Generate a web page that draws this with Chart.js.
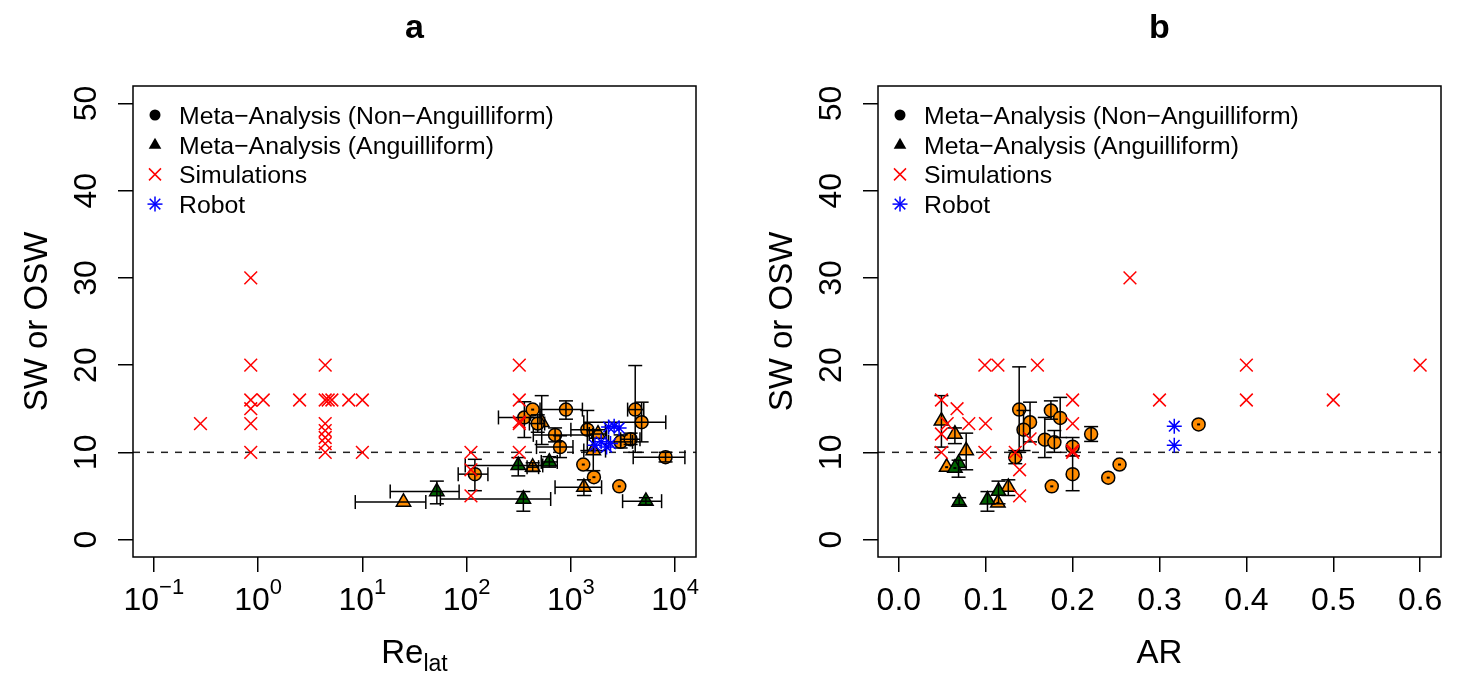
<!DOCTYPE html>
<html>
<head>
<meta charset="utf-8">
<script src="https://cdn.jsdelivr.net/npm/chart.js@4.4.1/dist/chart.umd.min.js"></script>
<style>
  html, body { margin: 0; padding: 0; background: #fff; overflow: hidden; }
  canvas { position: absolute; top: 0; }
</style>
</head>
<body>
<canvas id="graficoA" width="730" height="673" style="left:0"></canvas>
<canvas id="graficoB" width="715" height="673" style="left:745px"></canvas>
<script>
// ---------------- eixos ----------------
const reTicks = [0.1, 1, 10, 100, 1000, 10000]
const arTicks = [0, 0.1, 0.2, 0.3, 0.4, 0.5, 0.6]
const swTicks = [0, 10, 20, 30, 40, 50]

// ---------------- painel a (Re_lat) ----------------
const simRe   = [0.28, 0.85, 0.85, 0.85, 0.85, 0.85, 0.85, 1.12, 2.5, 4.4, 4.4, 4.7, 5.1, 4.4, 4.4, 4.4, 4.4, 4.4, 7.4, 10, 10, 110, 110, 110, 320, 320, 320, 320, 320]
const simSwA  = [13.3, 30, 20, 16, 15, 13.3, 10, 16, 16, 20, 16, 16, 16, 13.3, 12.5, 11.7, 11, 10, 16, 16, 10, 10, 8, 5, 20, 16, 13.3, 13.5, 10]

const roboRe  = [1700, 1950, 2200, 2400, 2300, 2600, 2900]
const roboSwA = [10.8, 11.2, 10.6, 11.0, 12.9, 13.0, 12.8]

// circulos laranja (nao anguilliforme)
const circRe    = [120, 358, 430, 481, 897, 705, 787, 1437, 1315, 1663, 2912, 3000, 3740, 4140, 4770, 8090]
const circSwA   = [7.5, 14.0, 14.9, 13.3, 14.9, 12.0, 10.6, 12.6, 8.6, 7.15, 6.1, 11.2, 11.5, 14.9, 13.45, 9.45]
const circReLo  = [83, 202, null, 400, 506, 436, 468, 1000, null, null, null, 2300, 3000, 3500, 1330, 3960]
const circReHi  = [160, 506, null, 560, 1290, 1620, 1047, 2140, null, null, null, 3900, 4600, 5000, 8130, 12400]
const circSwLoA = [5.6, 11.7, null, 12.3, 13.8, 11.2, 9.4, 10.2, null, null, null, 10.5, 10.9, 10.0, 11.2, 8.9]
const circSwHiA = [9.2, 15.8, null, 14.3, 15.9, 12.8, 11.9, 14.8, null, null, null, 12.0, 12.2, 19.95, 15.75, 10.0]

// triangulos laranja
const triLRe    = [24.8, 430, 525, 1333, 1640, 1820]
const triLSwA   = [4.3, 8.3, 13.45, 6.0, 10.2, 12.1]
const triLReLo  = [8.55, 380, null, 705, 1330, 1500]
const triLReHi  = [40.6, 490, null, 1970, 2150, 2200]
const triLSwLoA = [null, 7.8, 10.9, 5.05, 7.9, null]
const triLSwHiA = [null, 8.8, 16.5, 6.85, 12.5, null]

// triangulos verdes
const triVRe    = [51.8, 313, 350, 621, 5240]
const triVSwA   = [5.5, 8.5, 4.65, 8.9, 4.4]
const triVReLo  = [18.5, 97, 56, 520, 3133]
const triVReHi  = [84.7, 537, 640, 740, 7413]
const triVSwLoA = [4.1, 7.3, 3.25, 8.3, 4.0]
const triVSwHiA = [6.7, 9.4, 5.5, 9.5, 4.8]

// ---------------- painel b (AR) ----------------
const simAr   = [0.049, 0.067, 0.0556, 0.0805, 0.0997, 0.049, 0.049, 0.099, 0.099, 0.114, 0.1595, 0.2, 0.2, 0.2, 0.2, 0.134, 0.139, 0.139, 0.151, 0.266, 0.3, 0.4, 0.4, 0.5, 0.6]
const simSwB  = [16, 15, 13.3, 13.3, 13.3, 12.1, 10, 10, 20, 20, 20, 16, 13.3, 10, 10.2, 10, 8, 5, 11.55, 30, 16, 20, 16, 16, 20]

const roboAr  = [0.317, 0.317]
const roboSwB = [13.0, 10.8]

const circAr    = [0.1385, 0.151, 0.1435, 0.134, 0.175, 0.1857, 0.168, 0.179, 0.2, 0.2, 0.2213, 0.176, 0.241, 0.254, 0.345]
const circSwB   = [14.9, 13.45, 12.6, 9.45, 14.8, 13.95, 11.45, 11.15, 10.65, 7.5, 12.1, 6.1, 7.1, 8.6, 13.2]
const circSwLoB = [10.0, 11.2, 10.2, 8.7, 13.8, 11.7, 9.4, 10.0, 9.6, 5.6, 11.25, null, null, null, null]
const circSwHiB = [19.8, 15.75, 14.8, 10.2, 15.9, 16.3, 14.0, 12.5, 11.7, 9.6, 12.95, null, null, null, null]

const triLAr    = [0.049, 0.0645, 0.0775, 0.055, 0.114, 0.126]
const triLSwB   = [13.6, 12.1, 10.2, 8.3, 4.2, 6.0]
const triLSwLoB = [10.6, 11.0, 8.0, null, null, 5.05]
const triLSwHiB = [16.5, 12.8, 12.2, null, null, 6.85]

const triVAr    = [0.0687, 0.0645, 0.0694, 0.102, 0.1147]
const triVSwB   = [8.75, 8.2, 4.3, 4.55, 5.55]
const triVSwLoB = [7.15, null, 4.0, 3.25, 4.1]
const triVSwHiB = [9.1, null, 4.8, 5.5, 6.7]

const legendaTextos = ['Meta\u2212Analysis (Non\u2212Anguilliform)', 'Meta\u2212Analysis (Anguilliform)', 'Simulations', 'Robot']

const fonte = "'Liberation Sans', Arial, Helvetica, sans-serif"
const LARANJA = '#FF8C00'
const VERDE = '#006400'

// configuracao de cada painel (lida pelo plugin pelo id do canvas)
const paineis = {
  graficoA: {
    titulo: 'a', log: true,
    erros: [
      { xs: triLRe, ys: triLSwA, xLo: triLReLo, xHi: triLReHi, yLo: triLSwLoA, yHi: triLSwHiA },
      { xs: triVRe, ys: triVSwA, xLo: triVReLo, xHi: triVReHi, yLo: triVSwLoA, yHi: triVSwHiA },
      { xs: circRe, ys: circSwA, xLo: circReLo, xHi: circReHi, yLo: circSwLoA, yHi: circSwHiA }
    ]
  },
  graficoB: {
    titulo: 'b', log: false,
    erros: [
      { xs: triLAr, ys: triLSwB, yLo: triLSwLoB, yHi: triLSwHiB },
      { xs: triVAr, ys: triVSwB, yLo: triVSwLoB, yHi: triVSwHiB },
      { xs: circAr, ys: circSwB, yLo: circSwLoB, yHi: circSwHiB }
    ]
  }
}

function pontos(xs, ys) {
  return xs.map((v, i) => ({ x: v, y: ys[i] }))
}

function linha(ctx, x1, y1, x2, y2) {
  ctx.beginPath()
  ctx.moveTo(x1, y1)
  ctx.lineTo(x2, y2)
  ctx.stroke()
}

// barras de erro com "chapeu" nas pontas
function desenhaErros(chart, e) {
  const ctx = chart.ctx
  const sx = chart.scales.x
  const sy = chart.scales.y
  const cap = 7
  ctx.save()
  ctx.strokeStyle = '#000'
  ctx.fillStyle = '#000'
  ctx.lineWidth = 1.5
  e.xs.forEach((xv, i) => {
    const px = sx.getPixelForValue(xv)
    const py = sy.getPixelForValue(e.ys[i])
    let temErro = false
    if (e.xLo && e.xLo[i] != null) {
      const a = sx.getPixelForValue(e.xLo[i])
      const b = sx.getPixelForValue(e.xHi[i])
      linha(ctx, a, py, b, py)
      linha(ctx, a, py - cap, a, py + cap)
      linha(ctx, b, py - cap, b, py + cap)
      temErro = true
    }
    if (e.yLo && e.yLo[i] != null) {
      const a = sy.getPixelForValue(e.yLo[i])
      const b = sy.getPixelForValue(e.yHi[i])
      linha(ctx, px, a, px, b)
      linha(ctx, px - cap, a, px + cap, a)
      linha(ctx, px - cap, b, px + cap, b)
      temErro = true
    }
    if (!temErro) ctx.fillRect(px - 1.5, py - 1, 3, 2)
  })
  ctx.restore()
}

function textoVertical(ctx, txt, x, y) {
  ctx.save()
  ctx.translate(x, y)
  ctx.rotate(-Math.PI / 2)
  ctx.fillText(txt, 0, 0)
  ctx.restore()
}

function simboloLegenda(ctx, tipo, x, y) {
  ctx.save()
  ctx.lineWidth = 1.5
  if (tipo === 0) {
    ctx.fillStyle = '#000'
    ctx.beginPath(); ctx.arc(x, y, 5.5, 0, Math.PI * 2); ctx.fill()
  } else if (tipo === 1) {
    ctx.fillStyle = '#000'
    ctx.beginPath(); ctx.moveTo(x, y - 7); ctx.lineTo(x + 6.3, y + 4); ctx.lineTo(x - 6.3, y + 4); ctx.closePath(); ctx.fill()
  } else if (tipo === 2) {
    ctx.strokeStyle = '#FF0000'
    linha(ctx, x - 6, y - 6, x + 6, y + 6)
    linha(ctx, x - 6, y + 6, x + 6, y - 6)
  } else {
    ctx.strokeStyle = '#0000FF'
    linha(ctx, x - 7.5, y, x + 7.5, y)
    linha(ctx, x, y - 7.5, x, y + 7.5)
    linha(ctx, x - 5.3, y - 5.3, x + 5.3, y + 5.3)
    linha(ctx, x - 5.3, y + 5.3, x + 5.3, y - 5.3)
  }
  ctx.restore()
}

const pluginPainel = {
  id: 'painel',
  beforeDatasetsDraw(chart) {
    // linha tracejada em 10
    const ctx = chart.ctx
    const a = chart.chartArea
    const y = chart.scales.y.getPixelForValue(10)
    ctx.save()
    ctx.setLineDash([7, 7])
    ctx.strokeStyle = '#222'
    ctx.lineWidth = 1.5
    linha(ctx, a.left, y, a.right, y)
    ctx.restore()
  },
  afterDatasetDraw(chart, args) {
    if (chart.data.datasets[args.index].label !== 'circulos') return
    paineis[chart.canvas.id].erros.forEach(e => desenhaErros(chart, e))
  },
  afterDraw(chart) {
    const p = paineis[chart.canvas.id]
    const ctx = chart.ctx
    const a = chart.chartArea
    const sx = chart.scales.x
    const sy = chart.scales.y
    const meio = (a.left + a.right) / 2

    ctx.save()
    ctx.strokeStyle = '#000'
    ctx.lineWidth = 1.5
    ctx.strokeRect(a.left, a.top, a.right - a.left, a.bottom - a.top)

    ctx.fillStyle = '#000'
    ctx.textBaseline = 'alphabetic'

    // rotulos do eixo y
    ctx.font = '32px ' + fonte
    ctx.textAlign = 'center'
    swTicks.forEach(v => textoVertical(ctx, String(v), a.left - 37, sy.getPixelForValue(v)))

    // rotulos do eixo x
    const baseX = 610
    if (p.log) {
      reTicks.forEach(v => {
        const exp = Math.round(Math.log10(v))
        const sup = exp < 0 ? '\u2212' + (-exp) : String(exp)
        ctx.font = '32px ' + fonte
        const w1 = ctx.measureText('10').width
        ctx.font = '22px ' + fonte
        const w2 = ctx.measureText(sup).width
        const x0 = sx.getPixelForValue(v) - (w1 + w2) / 2
        ctx.textAlign = 'left'
        ctx.font = '32px ' + fonte
        ctx.fillText('10', x0, baseX)
        ctx.font = '22px ' + fonte
        ctx.fillText(sup, x0 + w1, baseX - 16)
      })
    } else {
      ctx.font = '32px ' + fonte
      ctx.textAlign = 'center'
      arTicks.forEach(v => ctx.fillText(v.toFixed(1), sx.getPixelForValue(v), baseX))
    }

    // titulo do eixo x
    const baseTit = 663
    if (p.log) {
      ctx.font = '33px ' + fonte
      const w1 = ctx.measureText('Re').width
      ctx.font = '23px ' + fonte
      const w2 = ctx.measureText('lat').width
      const x0 = meio - (w1 + w2) / 2
      ctx.textAlign = 'left'
      ctx.font = '33px ' + fonte
      ctx.fillText('Re', x0, baseTit)
      ctx.font = '23px ' + fonte
      ctx.fillText('lat', x0 + w1, baseTit + 8)
    } else {
      ctx.font = '33px ' + fonte
      ctx.textAlign = 'center'
      ctx.fillText('AR', meio, baseTit)
    }

    // titulo do eixo y
    ctx.font = '33px ' + fonte
    ctx.textAlign = 'center'
    textoVertical(ctx, 'SW or OSW', a.left - 86, (a.top + a.bottom) / 2)

    // titulo do painel
    ctx.font = 'bold 34px ' + fonte
    ctx.fillText(p.titulo, meio, 38)

    // legenda
    ctx.font = '24.8px ' + fonte
    ctx.textAlign = 'left'
    legendaTextos.forEach((t, i) => {
      const y = a.top + 29 + 29.7 * i
      simboloLegenda(ctx, i, a.left + 22, y)
      ctx.fillStyle = '#000'
      ctx.fillText(t, a.left + 46, y + 9)
    })
    ctx.restore()
  }
}

function criaPainel(id, xs) {
  const ehLog = paineis[id].log
  return new Chart(document.getElementById(id), {
    type: 'scatter',
    data: {
      datasets: [
        { label: 'robo', data: pontos(xs.roboX, xs.roboY), order: 1, pointStyle: 'star', radius: 7.5, borderColor: '#0000FF', borderWidth: 1.5 },
        { label: 'simulacoes', data: pontos(xs.simX, xs.simY), order: 2, pointStyle: 'crossRot', radius: 9, borderColor: '#FF0000', borderWidth: 1.5 },
        { label: 'circulos', data: pontos(xs.circX, xs.circY), order: 4, pointStyle: 'circle', radius: 6.5, backgroundColor: LARANJA, borderColor: '#000', borderWidth: 1.5 },
        { label: 'triVerde', data: pontos(xs.triVX, xs.triVY), order: 5, pointStyle: 'triangle', radius: 8.3, backgroundColor: VERDE, borderColor: '#000', borderWidth: 1.5 },
        { label: 'triLaranja', data: pontos(xs.triLX, xs.triLY), order: 6, pointStyle: 'triangle', radius: 8.3, backgroundColor: LARANJA, borderColor: '#000', borderWidth: 1.5 }
      ]
    },
    options: {
      responsive: false,
      devicePixelRatio: 1,
      animation: false,
      events: [],
      layout: { padding: { left: 0, top: 86, right: id === 'graficoA' ? 34 : 19, bottom: 0 } },
      plugins: { legend: { display: false }, tooltip: { enabled: false }, title: { display: false } },
      scales: {
        x: {
          type: ehLog ? 'logarithmic' : 'linear',
          min: ehLog ? Math.pow(10, -1.2) : -0.024,
          max: ehLog ? Math.pow(10, 4.2) : 0.624,
          afterBuildTicks: s => { s.ticks = (ehLog ? reTicks : arTicks).map(v => ({ value: v })) },
          afterFit: s => { s.height = 116 },
          ticks: { display: false },
          grid: { drawOnChartArea: false, drawTicks: true, tickLength: 15, color: '#000', lineWidth: 1.5 },
          border: { display: false }
        },
        y: {
          min: -2,
          max: 52,
          afterBuildTicks: s => { s.ticks = swTicks.map(v => ({ value: v })) },
          afterFit: s => { s.width = 133 },
          ticks: { display: false },
          grid: { drawOnChartArea: false, drawTicks: true, tickLength: 15, color: '#000', lineWidth: 1.5 },
          border: { display: false }
        }
      }
    },
    plugins: [pluginPainel]
  })
}

criaPainel('graficoA', {
  roboX: roboRe, roboY: roboSwA,
  simX: simRe, simY: simSwA,
  circX: circRe, circY: circSwA,
  triVX: triVRe, triVY: triVSwA,
  triLX: triLRe, triLY: triLSwA
})

criaPainel('graficoB', {
  roboX: roboAr, roboY: roboSwB,
  simX: simAr, simY: simSwB,
  circX: circAr, circY: circSwB,
  triVX: triVAr, triVY: triVSwB,
  triLX: triLAr, triLY: triLSwB
})
</script>
</body>
</html>
